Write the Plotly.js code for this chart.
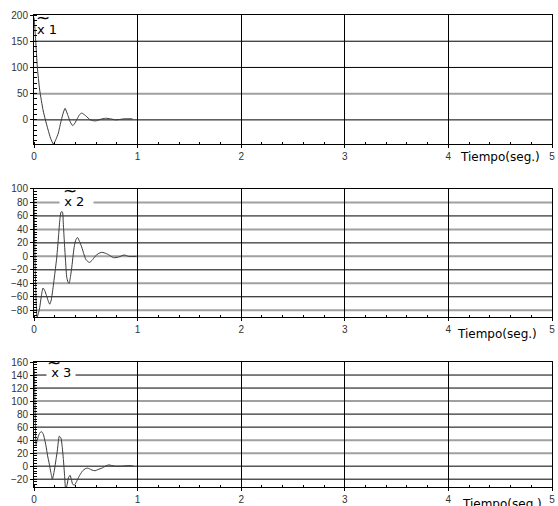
<!DOCTYPE html>
<html><head><meta charset="utf-8">
<script src="https://cdn.plot.ly/plotly-3.0.1.min.js"></script>
<style>html,body{margin:0;padding:0;background:#fff}</style>
</head><body><div id="chart" style="width:558px;height:506px"></div>
<script>
// time (s) and responses
const t1 = [0, 0.005, 0.016, 0.032, 0.055, 0.087, 0.11, 0.136, 0.16, 0.187, 0.21, 0.235, 0.25, 0.268, 0.285, 0.3, 0.315, 0.332, 0.35, 0.374, 0.395, 0.42, 0.44, 0.461, 0.485, 0.51, 0.535, 0.558, 0.59, 0.615, 0.64, 0.69, 0.74, 0.787, 0.835, 0.87, 0.95];
const x1 = [195, 185, 152, 101, 57, 19, 0, -19, -35, -46, -38, -25, -12, 3, 15, 22, 15, 6, -4, -11, -6, 3, 10, 13, 10, 6, 1, -1, -2, -1, 1, 3, 2, 0, 1, 2, 2];

const t2 = [0, 0.004, 0.01, 0.018, 0.03, 0.042, 0.055, 0.07, 0.087, 0.104, 0.12, 0.137, 0.152, 0.166, 0.18, 0.2, 0.22, 0.237, 0.25, 0.262, 0.274, 0.284, 0.294, 0.305, 0.316, 0.328, 0.339, 0.352, 0.365, 0.378, 0.39, 0.405, 0.42, 0.44, 0.46, 0.48, 0.502, 0.535, 0.56, 0.59, 0.62, 0.655, 0.7, 0.735, 0.768, 0.816, 0.87, 0.913, 0.99];
const x2 = [85, 45, -5, -55, -90, -85, -76, -60, -47, -51, -58, -66, -71, -65, -51, -27, -1, 30, 55, 66, 66, 45, 19, -8, -31, -38, -40, -30, -16, 2, 16, 25, 28, 22, 14, 4, -5, -9, -6, 0, 4, 6, 4, 1, -2, -1, 2, 0, 0];

const t3 = [0, 0.004, 0.008, 0.012, 0.02, 0.028, 0.04, 0.052, 0.068, 0.08, 0.092, 0.104, 0.116, 0.13, 0.148, 0.163, 0.177, 0.19, 0.203, 0.215, 0.226, 0.235, 0.244, 0.252, 0.261, 0.272, 0.284, 0.295, 0.306, 0.32, 0.332, 0.348, 0.36, 0.374, 0.39, 0.407, 0.425, 0.445, 0.47, 0.494, 0.515, 0.535, 0.56, 0.59, 0.62, 0.655, 0.69, 0.72, 0.75, 0.784, 0.849, 0.93, 0.96];
const x3 = [150, 140, 110, 76, 33, 38, 45, 50, 53, 52, 48, 40, 31, 17, 3, -10, -20, -12, 0, 13, 25, 38, 46, 45, 43, 30, 10, -14, -36, -28, -18, -14, -20, -28, -29, -25, -19, -13, -7, -4, -3, -4, -6, -7, -5, -3, 0, 2, 1, 0, 0, 1, 0];

// horizontal gridlines (black and grey) per panel
const grid1Black = [150, 100, 0];
const grid1Grey = [50];
const grid2Black = [60, 20, -20, -60];
const grid2Grey = [80, 40, 0, -40, -80];
const grid3Black = [140, 120, 80, 60, 0, -20];
const grid3Grey = [100, 40, 20];

const labels = ['x 1', 'x 2', 'x 3'];
const xTitle = 'Tiempo(seg.)';

const tickFont = {family: 'Liberation Sans, Arial, sans-serif', size: 10, color: '#333'};
const lineStyle = {color: '#3a3a3a', width: 1, shape: 'spline', smoothing: 0.6};

const traces = [
  {x: t1, y: x1, xaxis: 'x', yaxis: 'y', mode: 'lines', line: lineStyle, hoverinfo: 'skip'},
  {x: t2, y: x2, xaxis: 'x2', yaxis: 'y2', mode: 'lines', line: lineStyle, hoverinfo: 'skip'},
  {x: t3, y: x3, xaxis: 'x3', yaxis: 'y3', mode: 'lines', line: lineStyle, hoverinfo: 'skip'}
];

function xax(anchor) {
  return {
    anchor: anchor, domain: [0, 1], range: [0, 5], dtick: 1, tick0: 0,
    showgrid: true, gridcolor: '#000', gridwidth: 1, zeroline: false,
    showline: true, linecolor: '#000', linewidth: 1, mirror: true,
    ticks: 'outside', ticklen: 3, tickcolor: '#000', tickfont: tickFont,
    minor: {dtick: 0.2, ticks: 'inside', ticklen: 2, tickcolor: '#000', showgrid: false},
    fixedrange: true
  };
}
function yax(anchor, domain, range, dtick, minorDtick) {
  return {
    anchor: anchor, domain: domain, range: range, dtick: dtick, tick0: 0,
    showgrid: false, zeroline: false,
    showline: true, linecolor: '#000', linewidth: 1, mirror: true,
    ticks: 'outside', ticklen: 3, tickcolor: '#000', tickfont: tickFont,
    minor: {dtick: minorDtick, ticks: 'inside', ticklen: 3, tickcolor: '#000', showgrid: false},
    fixedrange: true
  };
}

const shapes = [];
function addGrid(vals, xref, yref, color, width) {
  vals.forEach(v => shapes.push({type: 'line', xref: xref, x0: 0, x1: 5, yref: yref, y0: v, y1: v,
    line: {color: color, width: width}, layer: 'below'}));
}
addGrid(grid1Grey, 'x', 'y', '#a0a0a0', 2);
addGrid(grid1Black, 'x', 'y', '#000', 1);
addGrid(grid2Grey, 'x2', 'y2', '#a0a0a0', 2);
addGrid(grid2Black, 'x2', 'y2', '#000', 1);
addGrid(grid3Grey, 'x3', 'y3', '#a0a0a0', 2);
addGrid(grid3Black, 'x3', 'y3', '#000', 1);

const labFont = {family: 'DejaVu Sans, sans-serif', size: 13, color: '#000'};
const tilFont = {family: 'DejaVu Sans, sans-serif', size: 17, color: '#000'};
const annotations = [
  // panel labels
  {xref: 'x domain', yref: 'y domain', x: 0.026, y: 0.891, text: labels[0], showarrow: false, font: labFont, xanchor: 'center', yanchor: 'middle'},
  {xref: 'x domain', yref: 'y domain', x: 0.0175, y: 0.975, text: '~', showarrow: false, font: tilFont, xanchor: 'center', yanchor: 'middle'},
  {xref: 'x2 domain', yref: 'y2 domain', x: 0.083, y: 0.902, text: '&nbsp;' + labels[1] + '&nbsp;&nbsp;', showarrow: false, font: labFont, xanchor: 'center', yanchor: 'middle', bgcolor: '#fff', borderpad: 0},
  {xref: 'x2 domain', yref: 'y2 domain', x: 0.069, y: 0.985, text: '~', showarrow: false, font: tilFont, xanchor: 'center', yanchor: 'middle'},
  {xref: 'x3 domain', yref: 'y3 domain', x: 0.053, y: 0.915, text: '&nbsp;' + labels[2] + '&nbsp;', showarrow: false, font: labFont, xanchor: 'center', yanchor: 'middle', bgcolor: '#fff', borderpad: 0},
  {xref: 'x3 domain', yref: 'y3 domain', x: 0.038, y: 0.99, text: '~', showarrow: false, font: tilFont, xanchor: 'center', yanchor: 'middle'},
  // x titles
  {xref: 'x', yref: 'y domain', x: 4.5, y: 0, yshift: -4, text: xTitle, showarrow: false, font: {family: 'DejaVu Sans, sans-serif', size: 12, color: '#000'}, xanchor: 'center', yanchor: 'top'},
  {xref: 'x2', yref: 'y2 domain', x: 4.47, y: 0, yshift: -8, text: xTitle, showarrow: false, font: {family: 'DejaVu Sans, sans-serif', size: 12, color: '#000'}, xanchor: 'center', yanchor: 'top'},
  {xref: 'x3', yref: 'y3 domain', x: 4.52, y: 0, yshift: -8, text: xTitle, showarrow: false, font: {family: 'DejaVu Sans, sans-serif', size: 12, color: '#000'}, xanchor: 'center', yanchor: 'top'}
];

const layout = {
  width: 558, height: 506,
  margin: {l: 34, r: 6, t: 15, b: 19},
  paper_bgcolor: '#fff', plot_bgcolor: '#fff',
  showlegend: false,
  xaxis: xax('y'), xaxis2: xax('y2'), xaxis3: xax('y3'),
  yaxis: yax('x', [0.7267, 1], [-46, 200], 50, 10),
  yaxis2: yax('x2', [0.3602, 0.6314], [-90, 100], 20, 4),
  yaxis3: yax('x3', [0, 0.2648], [-32, 160], 20, 4),
  shapes: shapes,
  annotations: annotations
};

Plotly.newPlot('chart', traces, layout, {staticPlot: true, displayModeBar: false});
</script>
</body></html>
